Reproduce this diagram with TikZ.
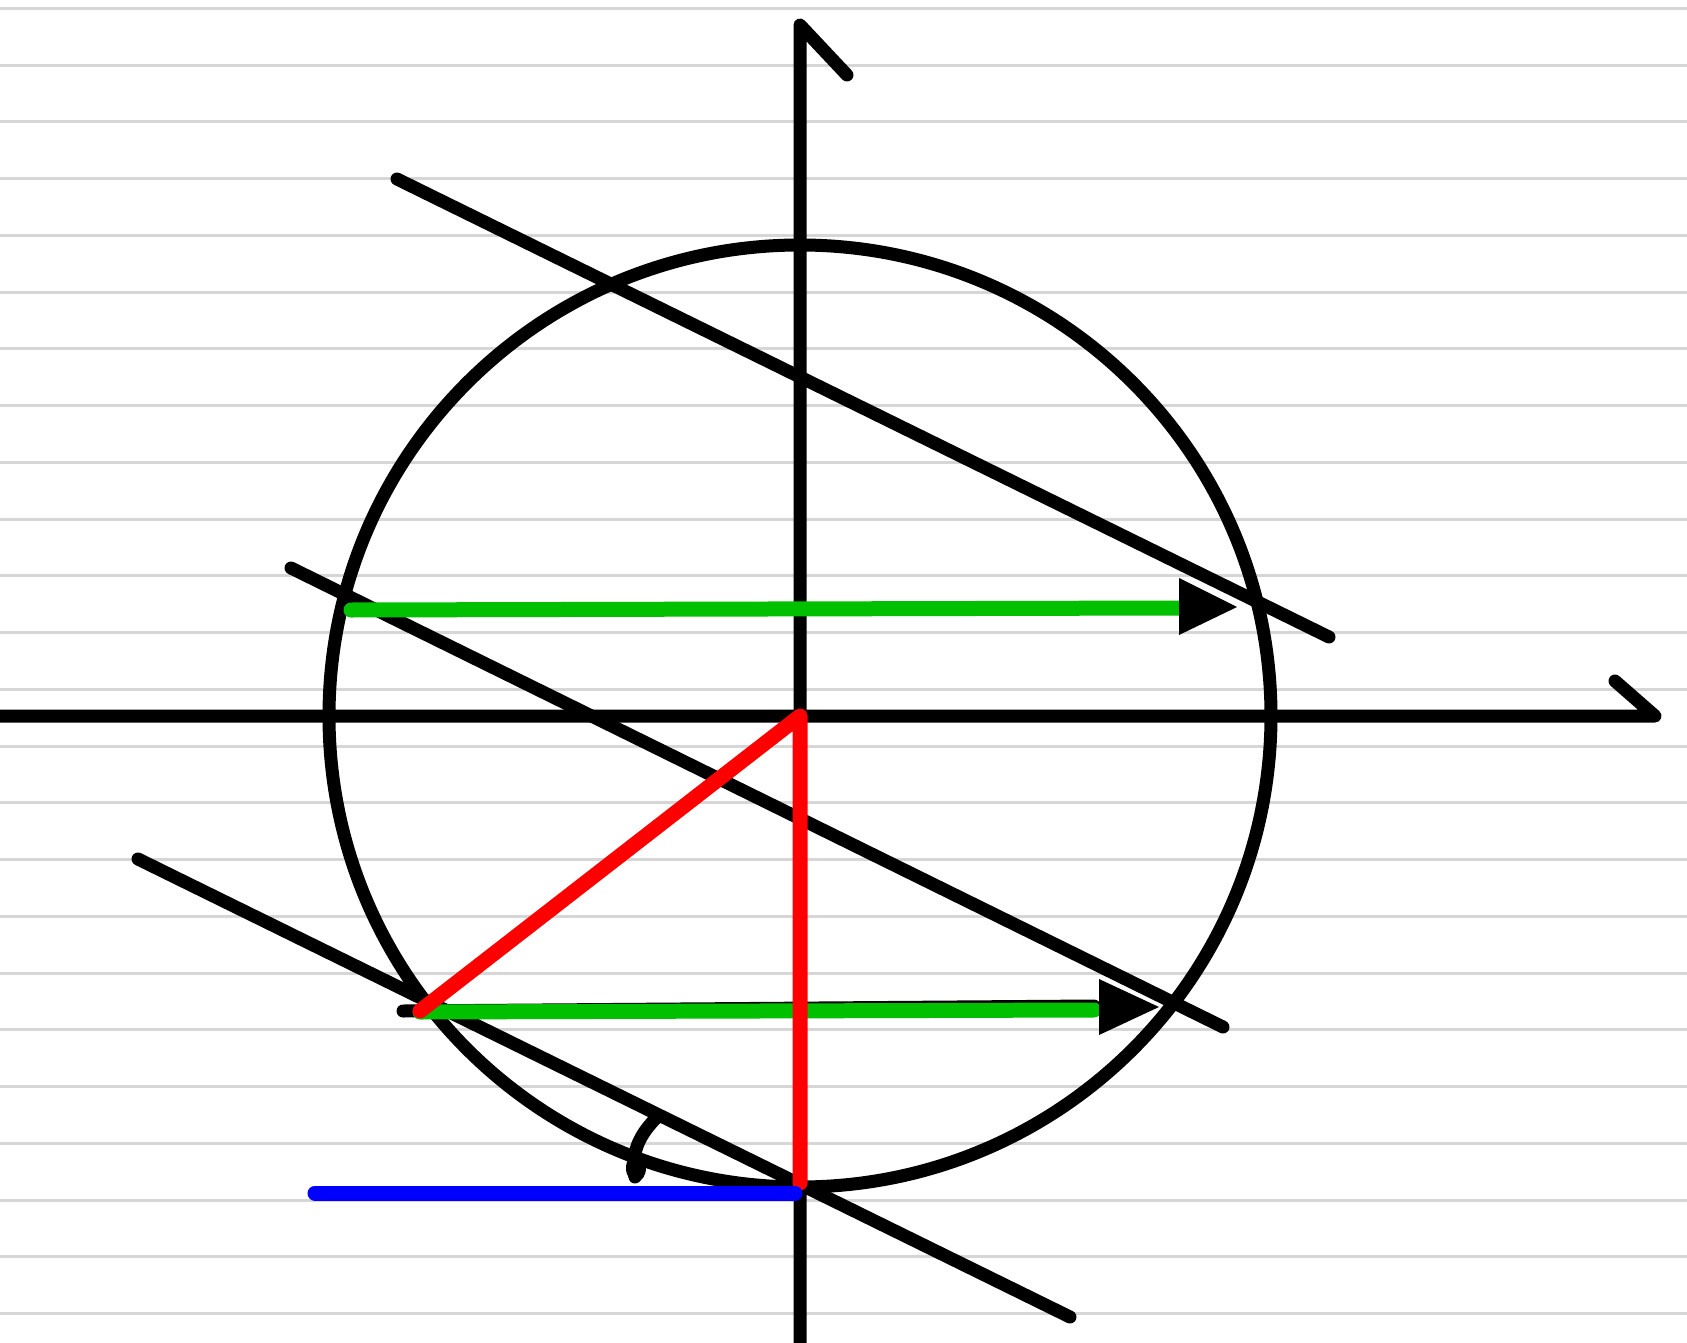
\documentclass[tikz,border=0pt]{standalone}
\usetikzlibrary{calc}
\definecolor{gridgray}{RGB}{214,214,214}
\definecolor{mygreen}{RGB}{0,192,0}
\begin{document}
\begin{tikzpicture}[x=0.5pt,y=-0.5pt,
  blk/.style={line width=6.5pt,line cap=round,line join=round,black},
  grn/.style={line width=7.5pt,line cap=round,mygreen},
  redl/.style={line width=7.5pt,line cap=round,line join=round,red},
  bluel/.style={line width=7.5pt,line cap=round,blue},
  gridl/.style={line width=1.5pt,gridgray},
  head/.style={fill=black}]
\useasboundingbox (0,0) rectangle (1687,1343);
\fill[white] (0,0) rectangle (1687,1343);
% ruled background
\foreach \k in {0,...,23}{
  \draw[gridl] (0,{8.3+56.75*\k}) -- (1687,{8.3+56.75*\k});
}
% points
\coordinate (O) at (800,716);
\coordinate (ytop) at (800,25);
\coordinate (ybot) at (800,1350);
\coordinate (ytick) at (847,75);
\coordinate (xleft) at (-10,716);
\coordinate (xright) at (1655,716);
\coordinate (xtick) at (1615,681);
\coordinate (a1) at (397,179);
\coordinate (b1) at (1329,637);
\coordinate (a2) at (291,568);
\coordinate (b2) at (1223,1027);
\coordinate (a3) at (138,859);
\coordinate (b3) at (1070,1317);
\coordinate (P) at (420,1011);
\coordinate (B) at (800,1183);
% axes
\draw[blk] (ybot) -- (ytop) -- (ytick);
\draw[blk] (xleft) -- (xright) -- (xtick);
% circle
\draw[line width=6.5pt] (O) circle[radius=235.5pt];
% parallel lines
\draw[blk] (a1) -- (b1);
\draw[blk] (a2) -- (b2);
\draw[blk] (a3) -- (b3);
% angle mark
\coordinate (m1) at (658,1116);
\coordinate (m2) at (635,1177);
\draw[blk] (m1) .. controls (642,1132) and (630,1150) .. (m2);
\fill (636,1168) ellipse[x radius=5pt,y radius=7pt];
% black stroke under lower green
\coordinate (s1) at (403,1011);
\coordinate (s2) at (1094,1006);
\draw[blk] (s1) -- (s2);
% green arrows
\coordinate (g1s) at (351,610);
\coordinate (g1e) at (1181,608);
\coordinate (g2s) at (420,1012);
\coordinate (g2e) at (1094,1010);
\draw[grn] (g1s) -- (g1e);
\fill[head] (1179,578) -- (1237,607) -- (1179,635) -- cycle;
\draw[grn] (g2s) -- (g2e);
\fill[head] (1099,979) -- (1159,1007) -- (1099,1035) -- cycle;
% red triangle legs
\draw[redl] (P) -- (O) -- (B);
% blue segment
\draw[bluel] (315,1193) -- (795,1193);
\end{tikzpicture}
\end{document}
